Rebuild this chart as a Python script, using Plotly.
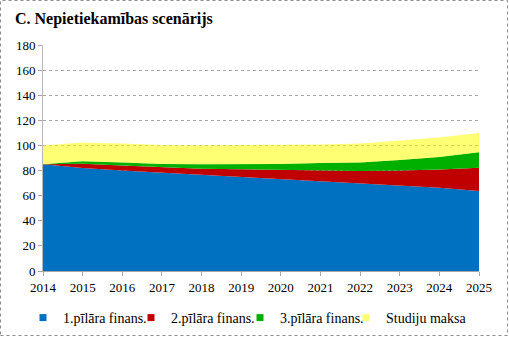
import plotly.graph_objects as go

years = [2014, 2015, 2016, 2017, 2018, 2019, 2020, 2021, 2022, 2023, 2024, 2025]
pilars1 = [85, 82, 80, 78.3, 76.4, 74.8, 73, 71.1, 69.5, 67.9, 66.3, 63.7]
pilars2 = [0, 3.5, 4, 4.2, 5.1, 6.2, 7.7, 9.1, 10.1, 12.2, 14.6, 18.6]
pilars3 = [0, 2, 2.5, 2.7, 3.5, 4, 4.5, 5.8, 6.8, 8.3, 9.9, 12.2]
studiju_maksa = [15, 14.8, 15.1, 15.2, 15.2, 15.3, 15.2, 14.8, 15.1, 15.4, 15.6, 15.4]

series = [
    ("1.pīlāra finans.", pilars1, "#0070C0"),
    ("2.pīlāra finans.", pilars2, "#C00000"),
    ("3.pīlāra finans.", pilars3, "#00B000"),
    ("Studiju maksa", studiju_maksa, "rgba(255,255,0,0.55)"),
]

FONT = "Liberation Serif"

W, H = 509, 337
L, R, T, B = 43, 30, 45, 66
pw, ph = W - L - R, H - T - B

# Legend box left edges (px) for each entry
legend_left_px = [23, 131, 240, 346]
legend_ids = ["legend", "legend2", "legend3", "legend4"]

fig = go.Figure()
for name, vals, color in series:
    fig.add_trace(go.Scatter(
        x=years, y=vals, name=name, mode="lines",
        stackgroup="one", line=dict(width=0, color=color),
        fillcolor=color, showlegend=False, hoverinfo="x+y+name",
    ))
# Legend entries with small square keys, one legend box per entry
for (name, vals, color), lid in zip(series, legend_ids):
    fig.add_trace(go.Scatter(
        x=[None], y=[None], name=name, mode="markers",
        marker=dict(symbol="square", size=7, color=color),
        showlegend=True, legend=lid,
    ))

legend_style = dict(
    orientation="h", xanchor="left",
    y=-(318 - 271) / ph, yanchor="middle",
    font=dict(size=14, family=FONT),
    itemwidth=30, bgcolor="rgba(0,0,0,0)",
)
legends = {
    lid: dict(legend_style, x=(lx - L) / pw)
    for lid, lx in zip(legend_ids, legend_left_px)
}

fig.update_layout(
    width=W, height=H,
    margin=dict(l=L, r=R, t=T, b=B, autoexpand=False),
    paper_bgcolor="white", plot_bgcolor="white",
    font=dict(family=FONT, size=13, color="black"),
    title=dict(
        text="<b>C. Nepietiekamības scenārijs</b>",
        x=15 / W, xanchor="left", y=1 - 18 / H, yanchor="middle",
        font=dict(size=16, family=FONT),
    ),
    showlegend=True,
    xaxis=dict(
        range=[2014, 2025], tickmode="linear", tick0=2014, dtick=1,
        showgrid=False, showline=True, linecolor="#a6a6a6", linewidth=1,
        ticks="outside", ticklen=4, tickcolor="#a6a6a6",
        tickfont=dict(size=13, family=FONT), zeroline=False,
    ),
    yaxis=dict(
        range=[0, 180], tickmode="linear", tick0=0, dtick=20,
        showgrid=True, gridcolor="#a6a6a6", griddash="dot", gridwidth=1,
        showline=True, linecolor="#b8b8b8", linewidth=1,
        ticks="outside", ticklen=4, tickcolor="#a6a6a6",
        tickfont=dict(size=13, family=FONT), zeroline=False,
    ),
    **legends,
)

# Outer frame around the whole chart (pixel positions mapped to paper units)
def px_x(px):
    return (px - L) / pw

def px_y(py):
    return (T + ph - py) / ph

fig.add_shape(
    type="rect", xref="paper", yref="paper",
    x0=px_x(0.5), x1=px_x(W - 1.5),
    y0=px_y(H - 1.5), y1=px_y(0.5),
    line=dict(color="#8c8c8c", width=1, dash="dot"),
    fillcolor="rgba(0,0,0,0)", layer="above",
)

fig.write_html("out.html")
